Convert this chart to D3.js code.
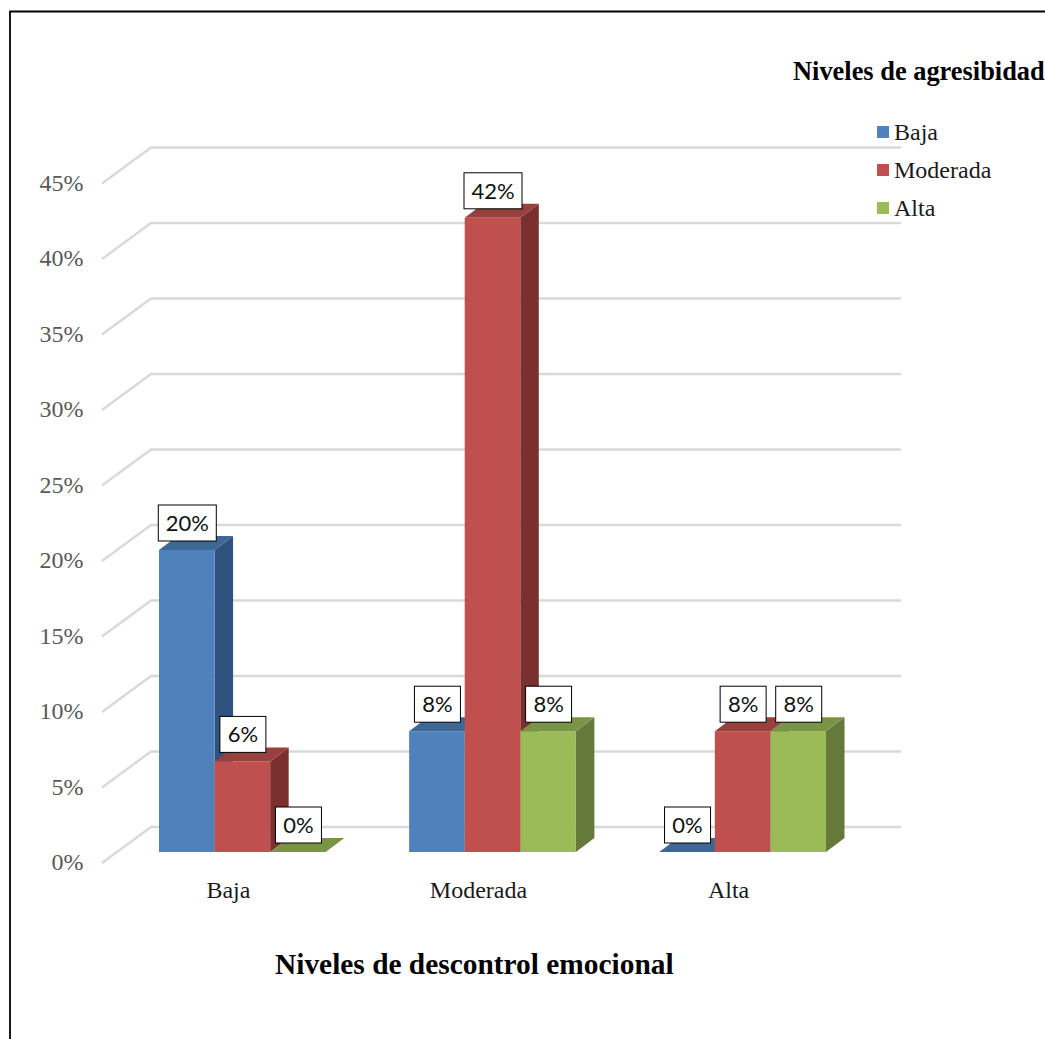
<!DOCTYPE html>
<html>
<head>
<meta charset="utf-8">
<script src="https://cdn.jsdelivr.net/npm/d3@7"></script>
<style>
html,body{margin:0;padding:0;background:#fff;overflow:hidden}
svg{display:block}
text{font-family:"Liberation Serif",serif}
</style>
</head>
<body>
<svg id="c" width="1045" height="1039"></svg>
<script>
const categories = ["Baja", "Moderada", "Alta"];
const seriesNames = ["Baja", "Moderada", "Alta"];
const valuesBaja = [0.20, 0.08, 0];
const valuesModerada = [0.06, 0.42, 0.08];
const valuesAlta = [0, 0.08, 0.08];
const seriesValues = [valuesBaja, valuesModerada, valuesAlta];
const tickValues = [0, 0.05, 0.10, 0.15, 0.20, 0.25, 0.30, 0.35, 0.40, 0.45];
const frontColors = ["#4f81bd", "#c0504d", "#9bbb59"];
const topColors = ["#3f6796", "#98403e", "#7a9446"];
const sideColors = ["#2f527e", "#7a302e", "#65793a"];

const svg = d3.select("#c");
const y = d3.scaleLinear().domain([0, 0.45]).range([852, 172.5]);
const x0 = d3.scaleBand().domain(categories).range([159, 826]).paddingInner(1 / 3);
const x1 = d3.scaleBand().domain(d3.range(3)).range([0, x0.bandwidth()]);
const dx = 18.5, dy = 14;          // bar depth
const gridBack = -25, gridFront = 11, gridLeft = 102, gridBackX = 151, gridRight = 901;

// frame
svg.append("path").attr("d", "M10,1039V11.5H1045").attr("fill", "none").attr("stroke", "#000").attr("stroke-width", 1.8);

// gridlines
const grid = svg.append("g").attr("fill", "none").attr("stroke", "#d9d9d9").attr("stroke-width", 2.4);
grid.selectAll("path").data(tickValues).join("path")
  .attr("d", d => `M${gridLeft},${y(d) + gridFront}L${gridBackX},${y(d) + gridBack}H${gridRight}`);

// y axis labels
const yAxis = d3.axisLeft(y).tickValues(tickValues).tickFormat(d3.format(".0%")).tickSize(0).tickPadding(0);
const yg = svg.append("g").attr("transform", "translate(83.5,10)").call(yAxis);
yg.select(".domain").remove();
yg.selectAll("text").attr("font-family", "Liberation Serif").attr("font-size", 24).attr("fill", "#595959");

// bars
const groups = svg.selectAll("g.cat").data(categories).join("g").attr("class", "cat")
  .attr("transform", d => `translate(${x0(d)},0)`);
groups.each(function (cat, ci) {
  const g = d3.select(this);
  seriesNames.forEach((s, si) => {
    const v = seriesValues[si][ci];
    const l = x1(si), r = l + x1.bandwidth(), t = y(v), b = y(0);
    g.append("path").attr("fill", sideColors[si])
      .attr("d", `M${r},${t}L${r + dx},${t - dy}V${b - dy}L${r},${b}Z`);
    g.append("path").attr("fill", topColors[si])
      .attr("d", `M${l},${t}L${l + dx},${t - dy}H${r + dx}L${r},${t}Z`);
    g.append("rect").attr("fill", frontColors[si]).attr("x", l).attr("y", t)
      .attr("width", x1.bandwidth()).attr("height", b - t);
  });
});

// data labels
const labelFmt = d3.format(".0%");
categories.forEach((cat, ci) => {
  seriesNames.forEach((s, si) => {
    const v = seriesValues[si][ci];
    const cx = x0(cat) + x1(si) + x1.bandwidth() / 2;
    const txt = labelFmt(v);
    const w = txt.length > 2 ? 58 : 46, h = 36;
    const bottom = y(v) - 9;
    const lg = svg.append("g");
    lg.append("rect").attr("x", cx - w / 2 + 0.5).attr("y", bottom - h).attr("width", w).attr("height", h)
      .attr("fill", "#fff").attr("stroke", "#000").attr("stroke-width", 1);
    lg.append("text").attr("x", cx + 0.5).attr("y", bottom - h / 2 + 8).attr("text-anchor", "middle")
      .attr("font-size", 22).style("font-family", "Lato").attr("fill", "#111").text(txt);
  });
});

// category labels
svg.selectAll("text.catlabel").data(categories).join("text").attr("class", "catlabel")
  .attr("x", d => x0(d) + x0.bandwidth() / 2 - 14).attr("y", 898)
  .attr("text-anchor", "middle").attr("font-size", 24).attr("fill", "#1a1a1a").text(d => d);

// legend
const legend = svg.selectAll("g.leg").data(seriesNames).join("g").attr("class", "leg")
  .attr("transform", (d, i) => `translate(877,${126 + i * 38})`);
legend.append("rect").attr("width", 12).attr("height", 12).attr("fill", (d, i) => frontColors[i]);
legend.append("text").attr("x", 17).attr("y", 14).attr("font-size", 24).attr("fill", "#1a1a1a").text(d => d);

// titles
svg.append("text").attr("x", 793).attr("y", 80).attr("font-size", 26.4).attr("font-weight", "bold").attr("fill", "#000").text("Niveles de agresibidad");
svg.append("text").attr("x", 275).attr("y", 974).attr("font-size", 29.4).attr("font-weight", "bold").attr("fill", "#000").text("Niveles de descontrol emocional");
</script>
</body>
</html>
